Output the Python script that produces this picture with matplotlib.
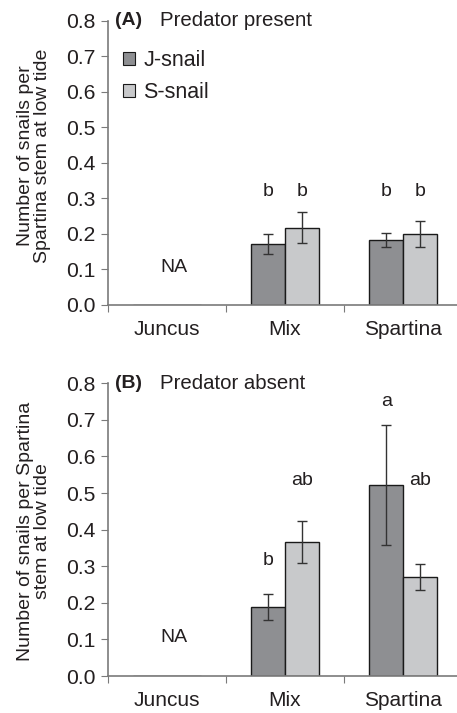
import matplotlib
matplotlib.use("Agg")
import matplotlib.pyplot as plt
import numpy as np
from matplotlib.patches import Patch

plt.rcParams['font.family'] = ['Liberation Sans', 'DejaVu Sans']

categories = ["Juncus", "Mix", "Spartina"]
series = ["J-snail", "S-snail"]

# Panel A: predator present (Juncus = NA)
a_j = [0.0, 0.172, 0.183]
a_j_err = [0.0, 0.028, 0.020]
a_s = [0.0, 0.218, 0.199]
a_s_err = [0.0, 0.043, 0.036]
a_j_letters = ["", "b", "b"]
a_s_letters = ["", "b", "b"]
a_j_lety = [0, 0.319, 0.319]
a_s_lety = [0, 0.319, 0.319]

# Panel B: predator absent
b_j = [0.0, 0.189, 0.522]
b_j_err = [0.0, 0.036, 0.165]
b_s = [0.0, 0.367, 0.270]
b_s_err = [0.0, 0.057, 0.036]
b_j_letters = ["", "b", "a"]
b_s_letters = ["", "ab", "ab"]
b_j_lety = [0, 0.317, 0.75]
b_s_lety = [0, 0.535, 0.535]

na_label = "NA"
yticks = [0.0, 0.1, 0.2, 0.3, 0.4, 0.5, 0.6, 0.7, 0.8]

col_j = "#8e8f92"
col_s = "#c8c9cb"
txt = "#231f20"
spine = "#7a7a7a"

W, H = 457, 713
fig = plt.figure(figsize=(W / 100, H / 100), dpi=100)

def make_panel(rect, jv, je, sv, se, jl, sl, jly, sly, tag, title, ylabel, legend, ylab_x, ylab_y):
    ax = fig.add_axes(rect)
    x = np.arange(len(categories))
    w = 0.284
    ax.bar(x - w / 2, jv, w, color=col_j, edgecolor="#1a1a1a", linewidth=1.0, zorder=2)
    ax.bar(x + w / 2, sv, w, color=col_s, edgecolor="#1a1a1a", linewidth=1.0, zorder=2)
    for xi, v, e in zip(x - w / 2, jv, je):
        if v > 0:
            ax.errorbar(xi, v, yerr=e, color="#333333", capsize=3.5, elinewidth=1.0, capthick=1.0, zorder=3)
    for xi, v, e in zip(x + w / 2, sv, se):
        if v > 0:
            ax.errorbar(xi, v, yerr=e, color="#333333", capsize=3.5, elinewidth=1.0, capthick=1.0, zorder=3)
    for xi, l, ly in zip(x - w / 2, jl, jly):
        if l:
            ax.text(xi, ly, l, ha="center", va="center", fontsize=14, color=txt)
    for xi, l, ly in zip(x + w / 2, sl, sly):
        if l:
            ax.text(xi, ly, l, ha="center", va="center", fontsize=14, color=txt)
    ax.text(0.06, 0.105, na_label, ha="center", va="center", fontsize=14, color=txt)
    ax.set_xlim(-0.5, 2.5)
    ax.set_ylim(0, 0.8)
    ax.set_yticks(yticks)
    ax.set_yticklabels([f"{t:.1f}" for t in yticks], fontsize=15.2, color=txt)
    ax.set_xticks([-0.5, 0.5, 1.5])
    ax.set_xticklabels([])
    ax.set_xticks(x, minor=True)
    ax.set_xticklabels(categories, minor=True, fontsize=15, color=txt)
    ax.tick_params(axis="x", which="minor", length=0, pad=11)
    ax.tick_params(axis="x", which="major", length=5, color=spine, direction="out")
    ax.tick_params(axis="y", length=5, color=spine, direction="out", pad=4)
    for s in ["top", "right"]:
        ax.spines[s].set_visible(False)
    for s in ["left", "bottom"]:
        ax.spines[s].set_color(spine)
        ax.spines[s].set_linewidth(1.2)
    ax.text(0.02, 0.8, tag, transform=ax.get_yaxis_transform(), ha="left", va="center",
            fontsize=14, fontweight="bold", color=txt)
    ax.text(0.147, 0.8, title, transform=ax.get_yaxis_transform(), ha="left", va="center",
            fontsize=14.7, color=txt)
    ax.set_ylabel(ylabel, fontsize=14, color=txt, linespacing=1.0)
    ax.yaxis.set_label_coords(ylab_x, ylab_y)
    if legend:
        handles = [Patch(facecolor=col_j, edgecolor="#1a1a1a", linewidth=0.8, label=series[0]),
                   Patch(facecolor=col_s, edgecolor="#1a1a1a", linewidth=0.8, label=series[1])]
        ax.legend(handles=handles, loc="upper left", bbox_to_anchor=(0.0, 0.95), frameon=False,
                  fontsize=15.5, handlelength=0.55, handleheight=0.55, handletextpad=0.4,
                  labelspacing=0.5, labelcolor=txt, borderaxespad=0.3)
    return ax

ax1 = make_panel([108 / W, 1 - 305 / H, 354 / W, (305 - 20.7) / H],
                 a_j, a_j_err, a_s, a_s_err, a_j_letters, a_s_letters, a_j_lety, a_s_lety,
                 "(A)", "Predator present", "Number of snails per\nSpartina stem at low tide", True,
                 -57 / 354, (305 - 156) / (305 - 20.7))
ax2 = make_panel([108 / W, 1 - 676 / H, 354 / W, (676 - 383.3) / H],
                 b_j, b_j_err, b_s, b_s_err, b_j_letters, b_s_letters, b_j_lety, b_s_lety,
                 "(B)", "Predator absent", "Number of snails per Spartina\nstem at low tide", False,
                 -57 / 354, (676 - 531.5) / (676 - 383.3))

fig.savefig("out.png", dpi=100)
